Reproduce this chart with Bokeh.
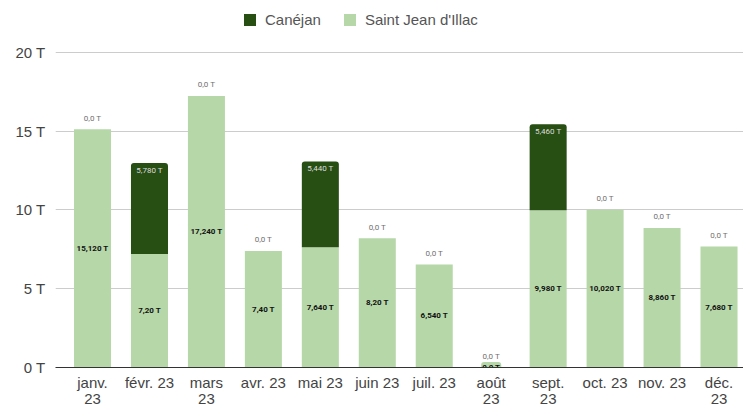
from bokeh.plotting import figure
from bokeh.models import ColumnDataSource, Range1d, FixedTicker, Legend, LegendItem
from bokeh.core.properties import value
from bokeh.embed import file_html
from bokeh.resources import INLINE

months = ["janv.\n23", "févr. 23", "mars\n23", "avr. 23", "mai 23", "juin 23",
          "juil. 23", "août\n23", "sept.\n23", "oct. 23", "nov. 23", "déc.\n23"]
saint_jean = [15.12, 7.20, 17.24, 7.40, 7.64, 8.20, 6.54, 0.0, 9.98, 10.02, 8.86, 7.68]
canejan = [0.0, 5.78, 0.0, 0.0, 5.44, 0.0, 0.0, 0.0, 5.46, 0.0, 0.0, 0.0]
sj_labels = ["15,120 T", "7,20 T", "17,240 T", "7,40 T", "7,640 T", "8,20 T",
             "6,540 T", "0,0 T", "9,980 T", "10,020 T", "8,860 T", "7,680 T"]
can_labels = ["0,0 T", "5,780 T", "0,0 T", "0,0 T", "5,440 T", "0,0 T",
              "0,0 T", "0,0 T", "5,460 T", "0,0 T", "0,0 T", "0,0 T"]
y_ticks = [0, 5, 10, 15, 20]
y_tick_labels = ["0 T", "5 T", "10 T", "15 T", "20 T"]

DARK = "#274e13"
LIGHT = "#b6d7a8"

xs = list(range(len(months)))
tops = [a + b for a, b in zip(saint_jean, canejan)]
src = ColumnDataSource(dict(x=xs, sj=saint_jean, top=tops))

sj_nz = [i for i in xs if saint_jean[i] > 0]
sj_zz = [i for i in xs if saint_jean[i] == 0]
src_sj = ColumnDataSource(dict(x=sj_nz, y=[saint_jean[i] / 2 for i in sj_nz],
                               t=[sj_labels[i] for i in sj_nz]))
src_sj0 = ColumnDataSource(dict(x=sj_zz, y=[saint_jean[i] / 2 for i in sj_zz],
                                t=[sj_labels[i] for i in sj_zz]))
nz = [i for i in xs if canejan[i] > 0]
zz = [i for i in xs if canejan[i] == 0]
src_nz = ColumnDataSource(dict(x=nz, y=[tops[i] for i in nz], t=[can_labels[i] for i in nz]))
src_zz = ColumnDataSource(dict(x=zz, y=[tops[i] for i in zz], t=[can_labels[i] for i in zz]))

p = figure(width=743, height=409, output_backend="svg", toolbar_location=None,
           x_range=Range1d(-0.65, 11.43), y_range=Range1d(0, 23.3),
           min_border_left=55, min_border_right=0, min_border_top=0, min_border_bottom=30)
p.outline_line_color = None
p.background_fill_color = "white"
p.border_fill_color = "white"

r_sj = p.vbar(x="x", top="sj", bottom=0, width=0.65, source=src, color=LIGHT, line_color=None)
r_can = p.vbar(x="x", top="top", bottom="sj", width=0.65, source=src, color=DARK, line_color=None,
               border_radius=(3, 3, 0, 0))

p.text(x="x", y="y", text="t", source=src_sj, text_font=value("Roboto"),
       text_font_style="bold", text_font_size="8px", text_color="#111111",
       text_align="center", text_baseline="middle")
p.text(x="x", y="y", text="t", source=src_sj0, text_font=value("Roboto"),
       text_font_style="bold", text_font_size="8px", text_color="#111111",
       text_align="center", text_baseline="middle",
       background_fill_color=LIGHT, padding=1, border_radius=3)
p.text(x="x", y="y", text="t", source=src_nz, text_font=value("Roboto"),
       text_font_size="8px", text_color="#dddddd", text_align="center",
       text_baseline="middle", y_offset=7)
p.text(x="x", y="y", text="t", source=src_zz, text_font=value("Roboto"),
       text_font_size="8px", text_color="#707070", text_align="center",
       text_baseline="middle", y_offset=-11)

# axes
p.xaxis.ticker = FixedTicker(ticks=xs)
p.xaxis.major_label_overrides = {i: m for i, m in zip(xs, months)}
p.xaxis.major_tick_line_color = None
p.xaxis.minor_tick_line_color = None
p.xaxis.major_tick_out = 0
p.xaxis.major_tick_in = 0
p.xaxis.axis_line_color = "#333333"
p.xaxis.axis_line_width = 1.2
p.xaxis.major_label_text_font = "Liberation Sans"
p.xaxis.major_label_text_font_size = "15px"
p.xaxis.major_label_text_line_height = 0.95
p.xaxis.major_label_text_color = "#444444"
p.xaxis.major_label_standoff = 6

p.yaxis.ticker = FixedTicker(ticks=y_ticks)
p.yaxis.major_label_overrides = {t: l for t, l in zip(y_ticks, y_tick_labels)}
p.yaxis.axis_line_color = None
p.yaxis.major_tick_line_color = None
p.yaxis.minor_tick_line_color = None
p.yaxis.major_tick_out = 0
p.yaxis.major_tick_in = 0
p.yaxis.major_label_text_font = "Liberation Sans"
p.yaxis.major_label_text_font_size = "15px"
p.yaxis.major_label_text_color = "#444444"
p.yaxis.major_label_standoff = 10

p.xgrid.grid_line_color = None
p.ygrid.ticker = FixedTicker(ticks=y_ticks)
p.ygrid.grid_line_color = "#cccccc"

legend = Legend(items=[LegendItem(label="Canéjan", renderers=[r_can]),
                       LegendItem(label="Saint Jean d'Illac", renderers=[r_sj])],
                orientation="horizontal", location=(187, 339),
                padding=0, margin=0, spacing=21, label_standoff=8,
                glyph_width=15, glyph_height=15, label_height=15,
                label_text_font="Liberation Sans", label_text_font_size="15px",
                label_text_color="#555555", border_line_color=None,
                background_fill_alpha=0)
p.add_layout(legend)

open("out.html", "w").write(file_html(p, INLINE))
